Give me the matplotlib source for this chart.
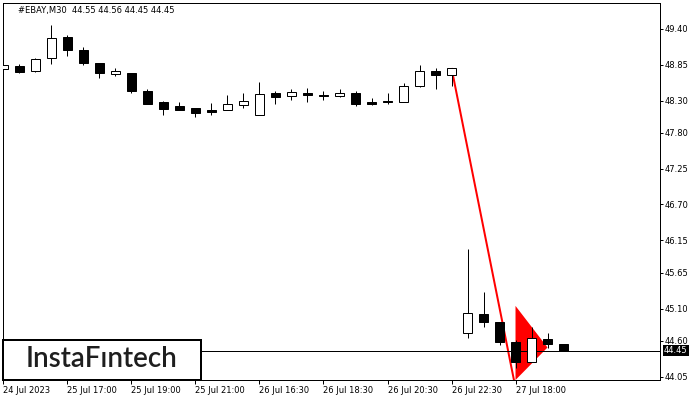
import matplotlib.pyplot as plt
from matplotlib.patches import Rectangle, Polygon
import matplotlib.transforms as mtransforms

# OHLC, barras de 30 min (#EBAY,M30)
opens = [48.78, 48.83, 48.76, 48.96, 49.28, 49.08, 48.88, 48.71, 48.72, 48.45,
         48.28, 48.22, 48.19, 48.15, 48.15, 48.23, 48.07, 48.42, 48.37, 48.41,
         48.39, 48.37, 48.42, 48.28, 48.29, 48.27, 48.52, 48.75, 48.69,
         44.72, 45.02, 44.90, 44.59, 44.27, 44.63, 44.55]
highs = [48.85, 48.86, 48.96, 49.46, 49.31, 49.12, 48.88, 48.80, 48.72, 48.47,
         48.29, 48.28, 48.19, 48.26, 48.39, 48.42, 48.59, 48.45, 48.48, 48.49,
         48.44, 48.47, 48.44, 48.34, 48.41, 48.57, 48.85, 48.80, 48.80,
         46.02, 45.35, 44.90, 44.62, 44.81, 44.73, 44.56]
lows = [48.72, 48.73, 48.74, 48.86, 48.99, 48.85, 48.64, 48.67, 48.42, 48.24,
        48.07, 48.15, 48.05, 48.08, 48.15, 48.19, 48.07, 48.24, 48.31, 48.27,
        48.31, 48.35, 48.21, 48.23, 48.24, 48.27, 48.50, 48.47, 48.52,
        44.64, 44.81, 44.54, 44.18, 44.27, 44.50, 44.45]
closes = [48.84, 48.74, 48.94, 49.26, 49.08, 48.88, 48.73, 48.75, 48.44, 48.25,
          48.17, 48.16, 48.11, 48.13, 48.24, 48.29, 48.40, 48.35, 48.43, 48.38,
          48.37, 48.41, 48.24, 48.25, 48.27, 48.53, 48.75, 48.69, 48.80,
          45.03, 44.89, 44.58, 44.27, 44.65, 44.55, 44.45]

xtick_pos = [0, 4, 8, 12, 16, 20, 24, 28, 32]
xtick_labels = ["24 Jul 2023", "25 Jul 17:00", "25 Jul 19:00", "25 Jul 21:00",
                "26 Jul 16:30", "26 Jul 18:30", "26 Jul 20:30", "26 Jul 22:30",
                "27 Jul 18:00"]
ytick_vals = [49.40, 48.85, 48.30, 47.80, 47.25, 46.70, 46.15, 45.65, 45.10, 44.60, 44.05]

# linha do mastro e bandeira (pennant)
pole_x = [28, 32]
pole_y = [48.80, 43.88]
flag_x = [32, 34, 32]
flag_y = [45.14, 44.50, 44.00]
last_price = 44.45

fig = plt.figure(figsize=(7, 4), dpi=100)
ax = fig.add_axes([3 / 700, 20 / 400, 657 / 700, 377 / 400])

px = 0.72  # 1 pixel em pontos

# bandeira vermelha
ax.add_patch(Polygon(list(zip(flag_x, flag_y)), closed=True, facecolor="red",
                     edgecolor="none", zorder=1))
ax.plot(pole_x, pole_y, color="red", linewidth=2 * px, zorder=1.5, solid_capstyle="butt")

# linha do preço atual
ax.axhline(last_price, color="black", linewidth=px, zorder=2)

# velas
for i, (o, h, l, c) in enumerate(zip(opens, highs, lows, closes)):
    ax.vlines(i, l, h, color="black", linewidth=px, zorder=3)
    fc = "white" if c >= o else "black"
    body = max(abs(c - o), 0.012)
    ax.bar(i, body, bottom=min(o, c), width=0.62, facecolor=fc,
           edgecolor="black", linewidth=px, zorder=4)

ax.set_xlim(-0.03, 41.03)
ax.set_ylim(44.00, 49.80)

ax.set_xticks(xtick_pos)
ax.set_xticklabels(xtick_labels, ha="left", fontsize=6)
ax.tick_params(axis="x", direction="out", length=4 * px, width=px, pad=1.5)

ax.yaxis.tick_right()
ax.set_yticks(ytick_vals)
ax.set_yticklabels([f"{v:.2f}" for v in ytick_vals], fontsize=6)
ax.tick_params(axis="y", direction="out", length=3 * px, width=px, pad=1.5)

for s in ax.spines.values():
    s.set_linewidth(px)

# rótulo do último preço
trans = mtransforms.blended_transform_factory(ax.transAxes, ax.transData)
ax.text(1.006, last_price, "44.45", transform=trans, color="white", fontsize=6,
        va="center", ha="left", zorder=10,
        bbox=dict(boxstyle="square,pad=0.15", facecolor="black", edgecolor="none"))

# cabeçalho
fig.text(18 / 700, 1 - 11 / 400, "#EBAY,M30  44.55 44.56 44.45 44.45",
         fontsize=6, va="center", ha="left", color="black")

# logotipo
fig.patches.append(Rectangle((3 / 700, 20 / 400), 198 / 700, 40 / 400,
                             transform=fig.transFigure, facecolor="white",
                             edgecolor="black", linewidth=2 * px, zorder=20))
fig.text(101 / 700, 1 - 359 / 400, "InstaFıntech", fontsize=20, family="Lato",
         fontweight="semibold", color="#1e1e1e", va="center", ha="center", zorder=21)

plt.savefig("out.png", dpi=100)
